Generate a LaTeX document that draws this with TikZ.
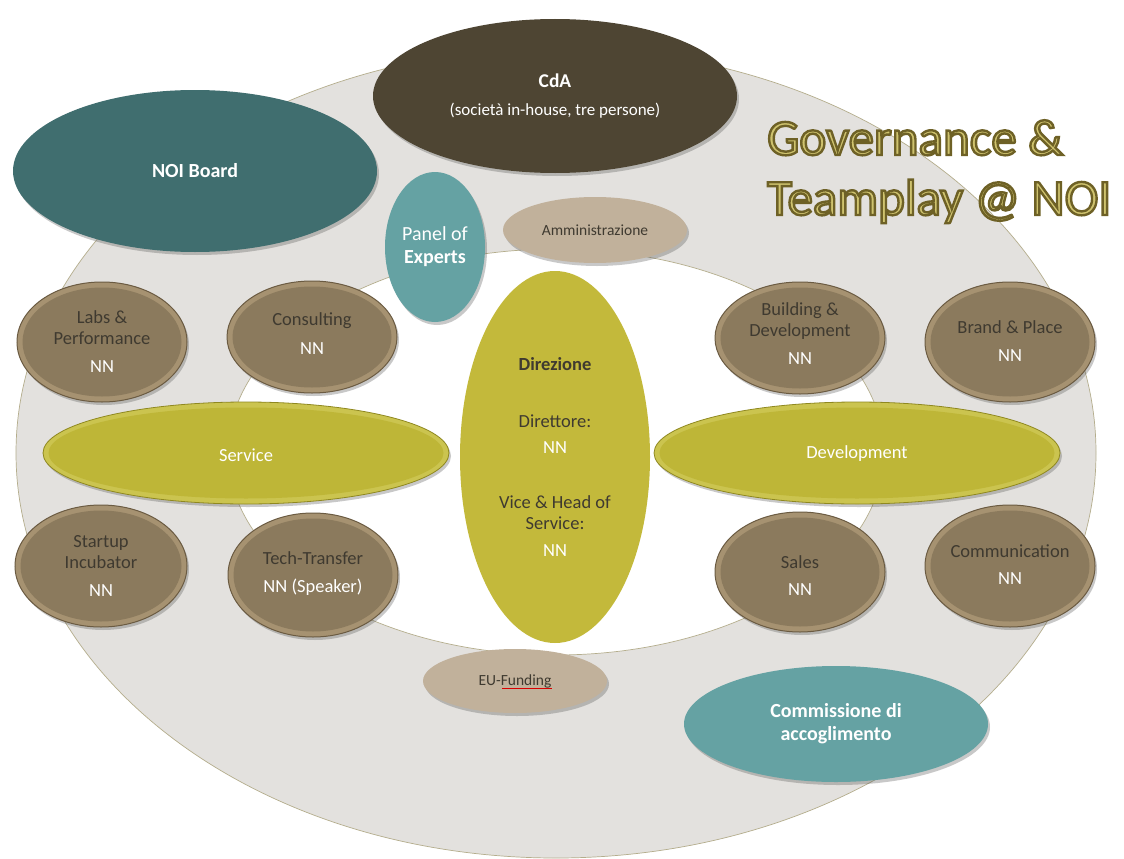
\documentclass[tikz,border=0pt]{standalone}
\usepackage{fontspec}
\setmainfont{Carlito}
\usetikzlibrary{shapes.geometric,shadows,calc}
\definecolor{ringgrey}{HTML}{E3E1DE}
\definecolor{ringline}{HTML}{B4AD8C}
\definecolor{brownBase}{HTML}{8B7A5D}
\definecolor{brownRim}{HTML}{A69271}
\definecolor{brownEdge}{HTML}{6B5B42}
\definecolor{oliveBase}{HTML}{BEB637}
\definecolor{oliveRim}{HTML}{CBC44F}
\definecolor{oliveEdge}{HTML}{8F8820}
\definecolor{dirOlive}{HTML}{C3B93B}
\definecolor{cdaBrown}{HTML}{4E4533}
\definecolor{tealDark}{HTML}{406E6F}
\definecolor{tealLight}{HTML}{65A2A3}
\definecolor{tanA}{HTML}{C1B19B}
\definecolor{darkText}{HTML}{3F3A30}
\definecolor{titleFill}{HTML}{CFC36F}
\newcommand\mybody{\fontsize{18.5}{21}\selectfont}
\newcommand\mysmall{\fontsize{15.5}{18}\selectfont}
\newcommand\mybig{\fontsize{20}{23}\selectfont}
\newcommand\outl[1]{\special{pdf:literal direct 2 Tr 2.4 w 0.43 0.38 0.15 RG}#1\special{pdf:literal direct 0 Tr}}
\tikzset{
  oval/.style={ellipse, inner sep=0pt, outer sep=0pt, align=center},
  shade/.style={drop shadow={shadow xshift=2pt, shadow yshift=-3pt, opacity=0.3, fill=black!70}},
  brownrim/.style={oval, shade, fill=brownRim, draw=brownEdge, line width=1pt},
  brownin/.style={oval, fill=brownBase},
  olivrim/.style={oval, shade, fill=oliveRim, draw=oliveEdge, line width=0.8pt},
  olivin/.style={oval, fill=oliveBase, text=white, font=\mybody},
  browntext/.style={align=center, text=darkText, font=\mybody, inner sep=0pt},
  teal/.style={oval, shade, text=white, font=\mybig},
  tanoval/.style={oval, shade, fill=tanA, text=darkText, font=\mysmall},
  ring/.style={draw=ringline, line width=0.7pt},
  titletext/.style={anchor=base west, inner sep=0pt, text=titleFill, font=\fontsize{51}{60}\selectfont},
}
\newcommand\bevel[6]{%
  \node[#6rim, minimum width=#4pt, minimum height=#5pt] (#1-r) at (#2,#3) {};
  \node[#6in, minimum width={#4pt-11pt}, minimum height={#5pt-11pt}] (#1) at (#1-r.center) {}; }
\begin{document}
\begin{tikzpicture}[x=1pt,y=-1pt]
\useasboundingbox[fill=white] (0,0) rectangle (1124,859);
% rings
\draw[ring, fill=ringgrey] (556,453) ellipse [x radius=540pt, y radius=405pt];
\draw[ring, fill=white] (556,452) ellipse [x radius=328pt, y radius=203pt];
% top nodes
\node[teal, fill=tealDark, minimum width=364pt, minimum height=162pt, font=\mybig\bfseries] (board) at (195,171) {NOI Board};
\node[oval, shade, fill=cdaBrown, text=white, minimum width=364pt, minimum height=154pt, font=\fontsize{17}{20}\selectfont] (cda) at (555,96)
  {{\fontsize{19.5}{22}\selectfont\bfseries CdA}\\[8pt](società in-house, tre persone)};
\node[teal, fill=tealLight, minimum width=100pt, minimum height=150pt] (panel) at (435,247) {Panel of\\\bfseries Experts};
\node[tanoval, minimum width=184pt, minimum height=66pt] (amm) at (595,230) {Amministrazione};
% Direzione
\node[oval, fill=dirOlive, text=darkText, font=\mybody, minimum width=190pt, minimum height=372pt] (dir) at (555,457)
  {\textbf{Direzione}\\[36pt]Direttore:\\[5pt]\textcolor{white}{NN}\\[34pt]Vice \& Head of\\Service:\\[6pt]\textcolor{white}{NN}};
% brown ovals
\bevel{labs}{102}{342}{170}{120}{brown}
\node[browntext] (labs-t) at (102,342) {Labs \&\\Performance\\[7pt]\textcolor{white}{NN}};
\bevel{cons}{312}{337}{170}{112}{brown}
\node[browntext] (cons-t) at (312,334) {Consulting\\[8pt]\textcolor{white}{NN}};
\bevel{build}{800}{338}{170}{112}{brown}
\node[browntext] (build-t) at (800,334) {Building \&\\Development\\[7pt]\textcolor{white}{NN}};
\bevel{brand}{1010}{342}{170}{120}{brown}
\node[browntext] (brand-t) at (1010,341) {Brand \& Place\\[7pt]\textcolor{white}{NN}};
\bevel{start}{101}{566}{172}{122}{brown}
\node[browntext] (start-t) at (101,566) {Startup\\Incubator\\[7pt]\textcolor{white}{NN}};
\bevel{tech}{313}{575}{170}{124}{brown}
\node[browntext] (tech-t) at (313,574) {Tech-Transfer\\[7pt]\textcolor{white}{NN (Speaker)}};
\bevel{sales}{800}{572}{170}{120}{brown}
\node[browntext] (sales-t) at (800,576) {Sales\\[6pt]\textcolor{white}{NN}};
\bevel{comm}{1010}{566}{170}{122}{brown}
\node[browntext] (comm-t) at (1010,565) {Communication\\[6pt]\textcolor{white}{NN}};
% olive bars
\bevel{serv}{246}{453}{406}{102}{oliv}
\node[text=white, font=\mybody, inner sep=0pt] (serv-t) at (246,455) {Service};
\bevel{dev}{857}{453}{406}{102}{oliv}
\node[text=white, font=\mybody, inner sep=0pt] (dev-t) at (857,454) {Development};
% bottom nodes
\node[tanoval, minimum width=184pt, minimum height=64pt] (eu) at (515,681) {EU-Funding};
\draw[red!85!black, line width=0.7pt] ($(eu.center)+(-13,7)$) -- ($(eu.center)+(37,7)$);
\node[teal, fill=tealLight, minimum width=304pt, minimum height=116pt, font=\mybig\bfseries] (comm2) at (836,724) {Commissione di\\accoglimento};
% title
\node[titletext] (title1) at (767,155) {\outl{Governance \&}};
\node[titletext] (title2) at (767,215) {\outl{Teamplay @ NOI}};
\end{tikzpicture}
\end{document}
